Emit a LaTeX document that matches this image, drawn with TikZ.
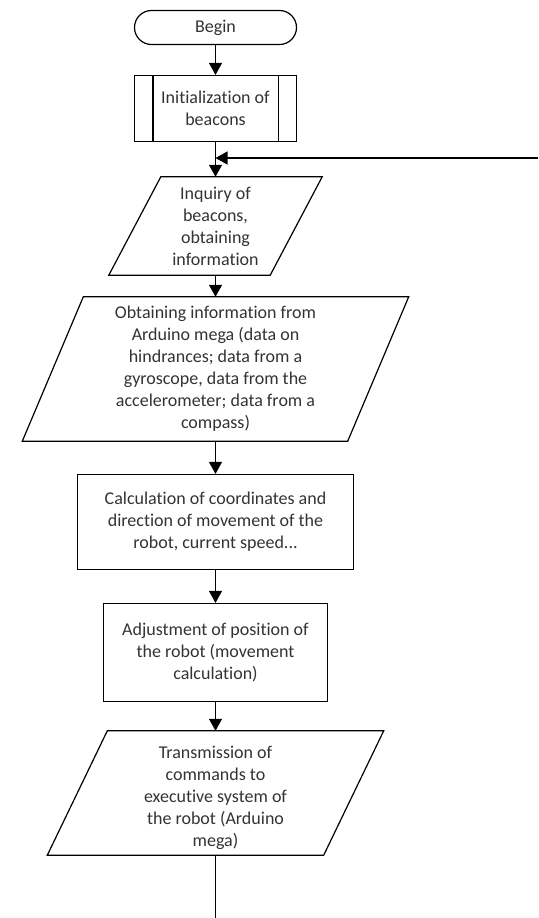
\documentclass[tikz,border=0pt]{standalone}
\usepackage{fontspec}
\setmainfont{Carlito}[Ligatures={NoCommon,NoContextual},RawFeature={-liga;-dlig;-clig}]
\usetikzlibrary{arrows.meta,calc}
\begin{document}
\begin{tikzpicture}[x=1pt,y=-1pt,
  every node/.style={font=\fontsize{18}{22}\selectfont, text=black!80, inner sep=0pt, align=center},
  line/.style={line width=1.2pt, draw=black},
  arr/.style={line, -{Triangle[length=12pt,width=13pt]}},
  boxstyle/.style={draw=black, line width=1.2pt},
  termstyle/.style={draw=black, line width=1.2pt, rounded corners=17pt}
]
\useasboundingbox (0,0) rectangle (538,918);

\node[termstyle, minimum width=162pt, minimum height=34pt] (begin) at (215.5,27.5) {Begin};

\node[boxstyle, minimum width=162pt, minimum height=66pt] (init) at (215.5,108.5) {Initialization of\\beacons};
\draw[line] ($(init.north west)+(19,0)$) -- ($(init.south west)+(19,0)$);
\draw[line] ($(init.north east)+(-19,0)$) -- ($(init.south east)+(-19,0)$);

\node[minimum width=161pt, minimum height=98pt] (inq) at (215.5,226) {Inquiry of\\beacons,\\obtaining\\information};
\draw[line] ($(inq.north west)+(26,0)$) -- ($(inq.north east)+(26,0)$) -- ($(inq.south east)+(-26,0)$) -- ($(inq.south west)+(-26,0)$) -- cycle;

\node[minimum width=325pt, minimum height=144pt] (obt) at (215.5,369) {Obtaining information from\\Arduino mega (data on\\hindrances; data from a\\gyroscope, data from the\\accelerometer; data from a\\compass)};
\draw[line] ($(obt.north west)+(30.5,0)$) -- ($(obt.north east)+(30.5,0)$) -- ($(obt.south east)+(-30.5,0)$) -- ($(obt.south west)+(-30.5,0)$) -- cycle;

\node[boxstyle, minimum width=276pt, minimum height=95pt] (calc) at (215.5,522) {Calculation of coordinates and\\direction of movement of the\\robot, current speed...};

\node[boxstyle, minimum width=224pt, minimum height=98pt] (adj) at (215.5,652.5) {Adjustment of position of\\the robot (movement\\calculation)};

\node[minimum width=276pt, minimum height=124pt] (trans) at (215.5,793) {};
\draw[line] ($(trans.north west)+(30,0)$) -- ($(trans.north east)+(30,0)$) -- ($(trans.south east)+(-30,0)$) -- ($(trans.south west)+(-30,0)$) -- cycle;
\node (transtext) at ($(trans.center)+(0,5)$) {Transmission of\\commands to\\executive system of\\the robot (Arduino\\mega)};

\coordinate (fb) at (538,158);
\coordinate (end) at (215.5,918);

\draw[arr] (begin.south) -- (init.north);
\draw[arr] (init.south) -- (inq.north);
\draw[arr] (fb) -- (fb -| init.south);
\draw[arr] (inq.south) -- (obt.north);
\draw[arr] (obt.south) -- (calc.north);
\draw[arr] (calc.south) -- (adj.north);
\draw[arr] (adj.south) -- (trans.north);
\draw[line] (trans.south) -- (end);
\end{tikzpicture}
\end{document}
